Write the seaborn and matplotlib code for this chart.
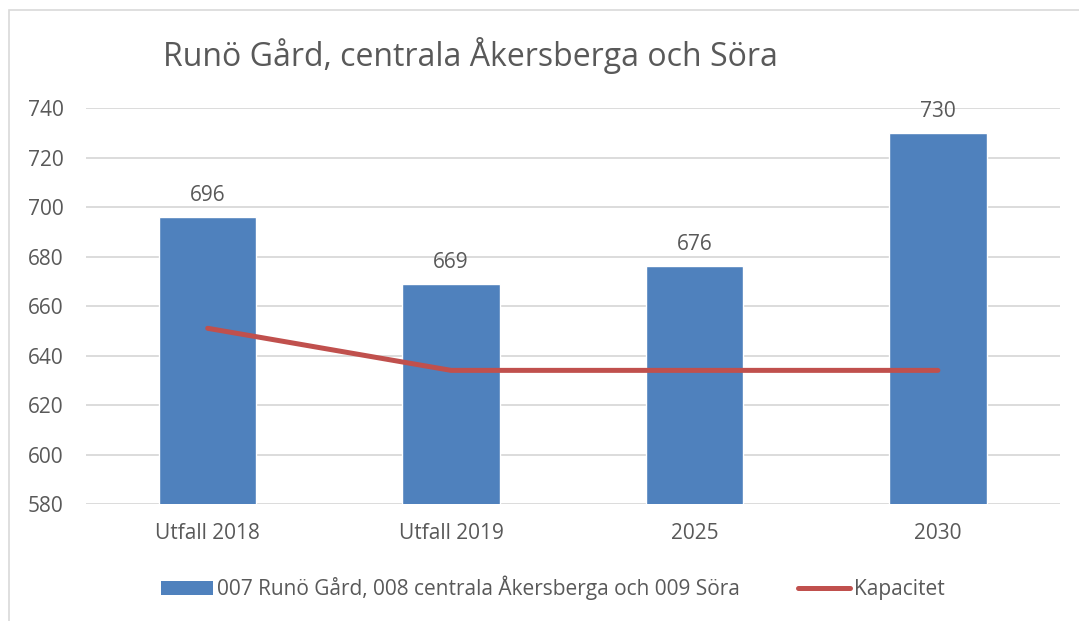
import numpy as np
import pandas as pd
import matplotlib.pyplot as plt
import seaborn as sns
from matplotlib.patches import Rectangle, Patch
from matplotlib.lines import Line2D

categories = ['Utfall 2018', 'Utfall 2019', '2025', '2030']
elever = [696, 669, 676, 730]
kapacitet = [651, 634, 634, 634]
bar_label = '007 Runö Gård, 008 centrala Åkersberga och 009 Söra'
line_label = 'Kapacitet'
title = 'Runö Gård, centrala Åkersberga och Söra'

sns.set_style('white')
plt.rcParams['font.family'] = ['Open Sans', 'DejaVu Sans']

blue = '#4F81BD'
red = '#C0504D'
grey = '#595959'

df = pd.DataFrame({'Kategori': categories, 'Elever': elever, 'Kapacitet': kapacitet})

fig = plt.figure(figsize=(10.79, 6.21), dpi=100)
ax = fig.add_axes([0.0797, 0.1884, 0.9023, 0.6376])

sns.barplot(data=df, x='Kategori', y='Elever', color=blue, width=0.4,
            saturation=1, ax=ax, zorder=2)
sns.lineplot(x=np.arange(len(categories)), y=df['Kapacitet'], color=red,
             linewidth=3.6, solid_capstyle='round', ax=ax, zorder=3)

for i, v in enumerate(elever):
    ax.annotate(str(v), (i, v), xytext=(0, 8), textcoords='offset points',
                ha='center', va='bottom', fontsize=15, color=grey)

ax.set_ylim(580, 740)
ax.set_xlim(-0.5, 3.5)
ax.set_yticks(range(580, 741, 20))
ax.yaxis.grid(True, color='#d9d9d9', linewidth=1.3, zorder=0)
ax.set_axisbelow(True)
for s in ax.spines.values():
    s.set_visible(False)
ax.tick_params(axis='both', length=0, labelsize=15, labelcolor=grey)
ax.tick_params(axis='x', pad=14)
ax.tick_params(axis='y', pad=16)
ax.set_xlabel('')
ax.set_ylabel('')

fig.text(163 / 1079, 1 - 55 / 621, title, fontsize=23, color=grey, va='center', ha='left')

handles = [Patch(facecolor=blue, edgecolor='none'),
           Line2D([0], [0], color=red, linewidth=3.6, solid_capstyle='round')]
fig.legend(handles, [bar_label, line_label], loc='center', bbox_to_anchor=(0.5125, 1 - 588 / 621),
           ncol=2, frameon=False, fontsize=15, labelcolor=grey, handlelength=2.5,
           handletextpad=0.2, columnspacing=2.8, handleheight=0.7)

fig.patches.append(Rectangle((9 / 1079, -0.1), 1.2, 1.1 - 10 / 621, transform=fig.transFigure,
                             fill=False, edgecolor='#d9d9d9', linewidth=1.2))

fig.savefig('out.png', dpi=100)
